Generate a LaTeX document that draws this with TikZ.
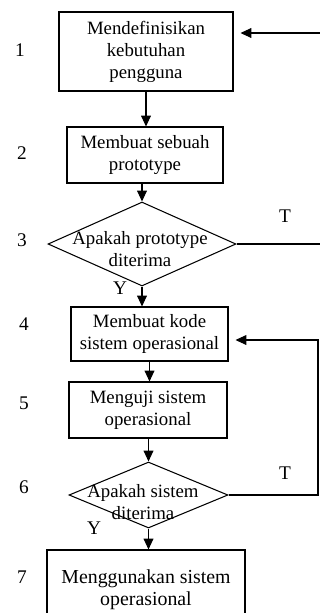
\documentclass[tikz,border=0pt]{standalone}
\usepackage{fontspec}
\setmainfont{Liberation Serif}
\usetikzlibrary{shapes.geometric,arrows.meta}

\begin{document}
\begin{tikzpicture}[x=0.02cm, y=-0.02cm, line width=0.6pt,
    >={Triangle[length=6.2pt,width=5.6pt]},
    kotak/.style={draw, align=center, inner sep=0pt, font=\fontsize{10.7}{12.5}\selectfont},
    keputusan/.style={draw, diamond, inner sep=0pt},
    teks/.style={align=center, inner sep=0pt, font=\fontsize{10.7}{12.5}\selectfont},
    nomor/.style={inner sep=0pt, font=\fontsize{11}{13}\selectfont}]
    \useasboundingbox (0,0) rectangle (320,613);
    \clip (0,0) rectangle (320,613);
    % langkah
    \node[kotak, minimum width=3.48cm, minimum height=1.58cm] (b1) at (146,51.5) {Mendefinisikan\\kebutuhan\\pengguna};
    \node[kotak, minimum width=3.12cm, minimum height=1.12cm] (b2) at (145,155) {Membuat sebuah\\prototype};
    \node[keputusan, minimum width=3.76cm, minimum height=1.68cm] (d3) at (142,244) {};
    \node[teks] (t3) at (140,249) {Apakah prototype\\diterima};
    \node[kotak, minimum width=3.14cm, minimum height=1.08cm] (b4) at (149.5,334) {Membuat kode\\sistem operasional};
    \node[kotak, minimum width=3.16cm, minimum height=1.12cm] (b5) at (148,410) {Menguji sistem\\operasional};
    \node[keputusan, minimum width=3.18cm, minimum height=1.32cm] (d6) at (148.5,495) {};
    \node[teks] (t6) at (143,502) {Apakah sistem\\diterima};
    \node[kotak, minimum width=3.96cm, minimum height=1.6cm, font=\fontsize{11.3}{12.5}\selectfont] (b7) at (146,590) {Menggunakan sistem\\operasional};
    % nomor
    \node[nomor] (n1) at (20,50) {1};
    \node[nomor] (n2) at (22,153) {2};
    \node[nomor] (n3) at (22,240) {3};
    \node[nomor] (n4) at (24,324) {4};
    \node[nomor] (n5) at (24,403) {5};
    \node[nomor] (n6) at (24,487) {6};
    \node[nomor] (n7) at (22,577) {7};
    \node[nomor] (tidak1) at (285,216) {T};
    \node[nomor] (tidak2) at (285,473) {T};
    \node[nomor] (ya1) at (120,288) {Y};
    \node[nomor] (ya2) at (94,528) {Y};
    % panah
    \draw[->] (b1.south) -- (b1.south |- b2.north);
    \draw[->] (d3.north |- b2.south) -- (d3.north);
    \draw[->] (d3.south) -- (d3.south |- b4.north);
    \draw[->] (b4.south) -- (b4.south |- b5.north);
    \draw[->] (d6.north |- b5.south) -- (d6.north);
    \draw[->] (d6.south) -- (d6.south |- b7.north);
    \coordinate (kanan1) at (330,33);
    \coordinate (kanan2) at (318,340);
    \draw[->, shorten >=0.14cm] (d3.east) -| (kanan1) -- (b1.east |- kanan1);
    \draw[->, shorten >=0.14cm] (d6.east) -| (kanan2) -- (b4.east |- kanan2);
\end{tikzpicture}
\end{document}
